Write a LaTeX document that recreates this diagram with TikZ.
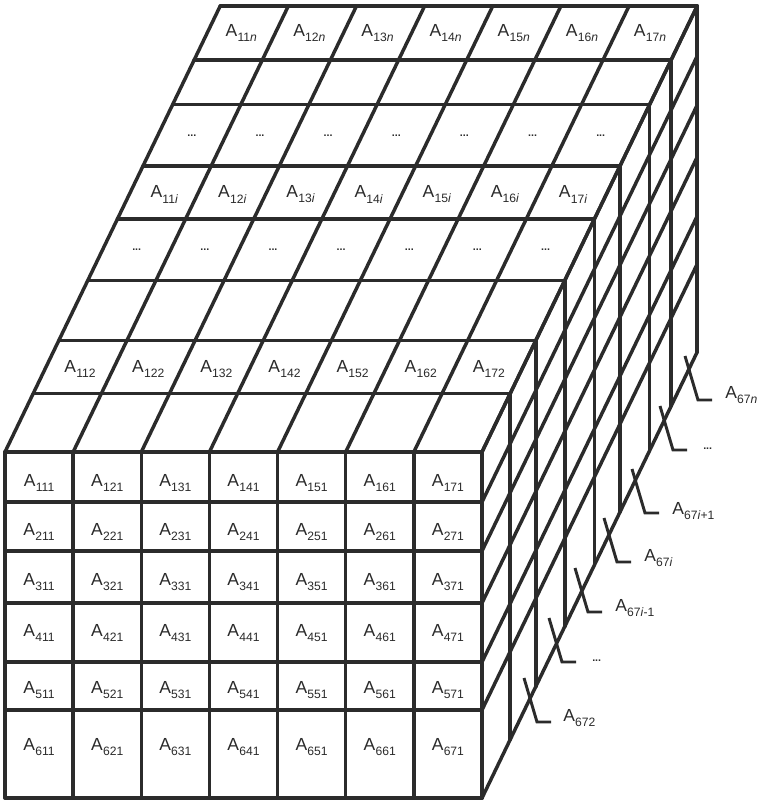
\documentclass[tikz,border=0pt]{standalone}
\usepackage{fontspec}
\setmainfont{Liberation Sans}
\definecolor{ink}{HTML}{2B2B2B}
\newcommand{\Asub}[1]{A\kern0.2pt\raisebox{-3.8pt}{\fontsize{9.1}{9.5}\selectfont #1}}
\tikzset{
  gridline/.style={line width=2.6pt, draw=ink, line cap=round},
  leader/.style={line width=2.2pt, draw=ink},
  lab/.style={inner sep=0pt, text=ink, font=\fontsize{13.1}{14}\selectfont},
  dotlab/.style={inner sep=0pt, text=ink, font=\bfseries\fontsize{8}{8}\selectfont}
}
\begin{document}
\begin{tikzpicture}[x=0.75pt,y=-0.75pt]
\useasboundingbox[fill=white] (0,0) rectangle (760,802);
% ---------- front face ----------
\foreach \c in {0,...,7}
  \draw[gridline] ({5+68.14*\c},452) -- ({5+68.14*\c},798);
\foreach \y in {452,502,551,603,662,710,798}
  \draw[gridline] (5,\y) -- (482,\y);
% ---------- top face ----------
\foreach \d in {0,1.047,2.0,3.08,4.18,5.13,6.23,7.03,8}
  \draw[gridline] ({5+26.9*\d},{452-55.75*\d}) -- ({482+26.9*\d},{452-55.75*\d});
\foreach \c in {0,...,7}
  \draw[gridline] ({5+68.14*\c},452) -- ({5+68.14*\c+215.2},6);
% ---------- right face ----------
\foreach \d in {0,1.047,2.0,3.08,4.18,5.13,6.23,7.03,8}
  \draw[gridline] ({482+26.9*\d},{452-55.75*\d}) -- ({482+26.9*\d},{798-55.75*\d});
\foreach \y in {452,502,551,603,662,710,798}
  \draw[gridline] (482,\y) -- (697.2,{\y-446});
% ---------- front labels ----------
\foreach \r/\yc in {1/483,2/532,3/582,4/633,5/690,6/747}
  \foreach \c in {1,...,7}
    \node[lab] (f\r\c) at ({5+68.14*(\c-0.5)},\yc) {\Asub{\r\c1}};
% ---------- top labels ----------
\foreach \c in {1,...,7}{
  \node[lab] (t1\c) at ({5+26.9*1.5235+68.14*(\c-0.5)},{452-55.75*1.5235+2}) {\Asub{1\c2}};
  \node[dotlab] (t3\c) at ({5+26.9*3.63+68.14*(\c-0.5)},{452-55.75*3.63}) {...};
  \node[lab] (t4\c) at ({5+26.9*4.655+68.14*(\c-0.5)},{452-55.75*4.655+2}) {\Asub{1\c\textit{i}}};
  \node[dotlab] (t5\c) at ({5+26.9*5.68+68.14*(\c-0.5)},{452-55.75*5.68}) {...};
  \node[lab] (t7\c) at ({5+26.9*7.515+68.14*(\c-0.5)},{452-55.75*7.515}) {\Asub{1\c\textit{n}}};
}
% ---------- right-side labels with leaders ----------
\coordinate (c2) at (537,722);
\coordinate (c3) at (562,662);
\coordinate (c4) at (588,612);
\coordinate (c5) at (617,562);
\coordinate (c6) at (645,513);
\coordinate (c7) at (673,450);
\coordinate (c8) at (698,400);
\foreach \k in {2,...,8}
  \draw[leader] ([shift={(-13,-44)}]c\k) -- (c\k) -- ([shift={(14,0)}]c\k);
\node[lab, anchor=west] (r2) at ([shift={(26,-4)}]c2) {\Asub{672}};
\node[dotlab, anchor=west] (r3) at ([shift={(30,-1)}]c3) {...};
\node[lab, anchor=west] (r4) at ([shift={(27,-4)}]c4) {\Asub{67\textit{i}-1}};
\node[lab, anchor=west] (r5) at ([shift={(27,-4)}]c5) {\Asub{67\textit{i}}};
\node[lab, anchor=west] (r6) at ([shift={(27,-2)}]c6) {\Asub{67\textit{i}+1}};
\node[dotlab, anchor=west] (r7) at ([shift={(30,-1)}]c7) {...};
\node[lab, anchor=west] (r8) at ([shift={(27,-5)}]c8) {\Asub{67\textit{n}}};
\end{tikzpicture}
\end{document}
